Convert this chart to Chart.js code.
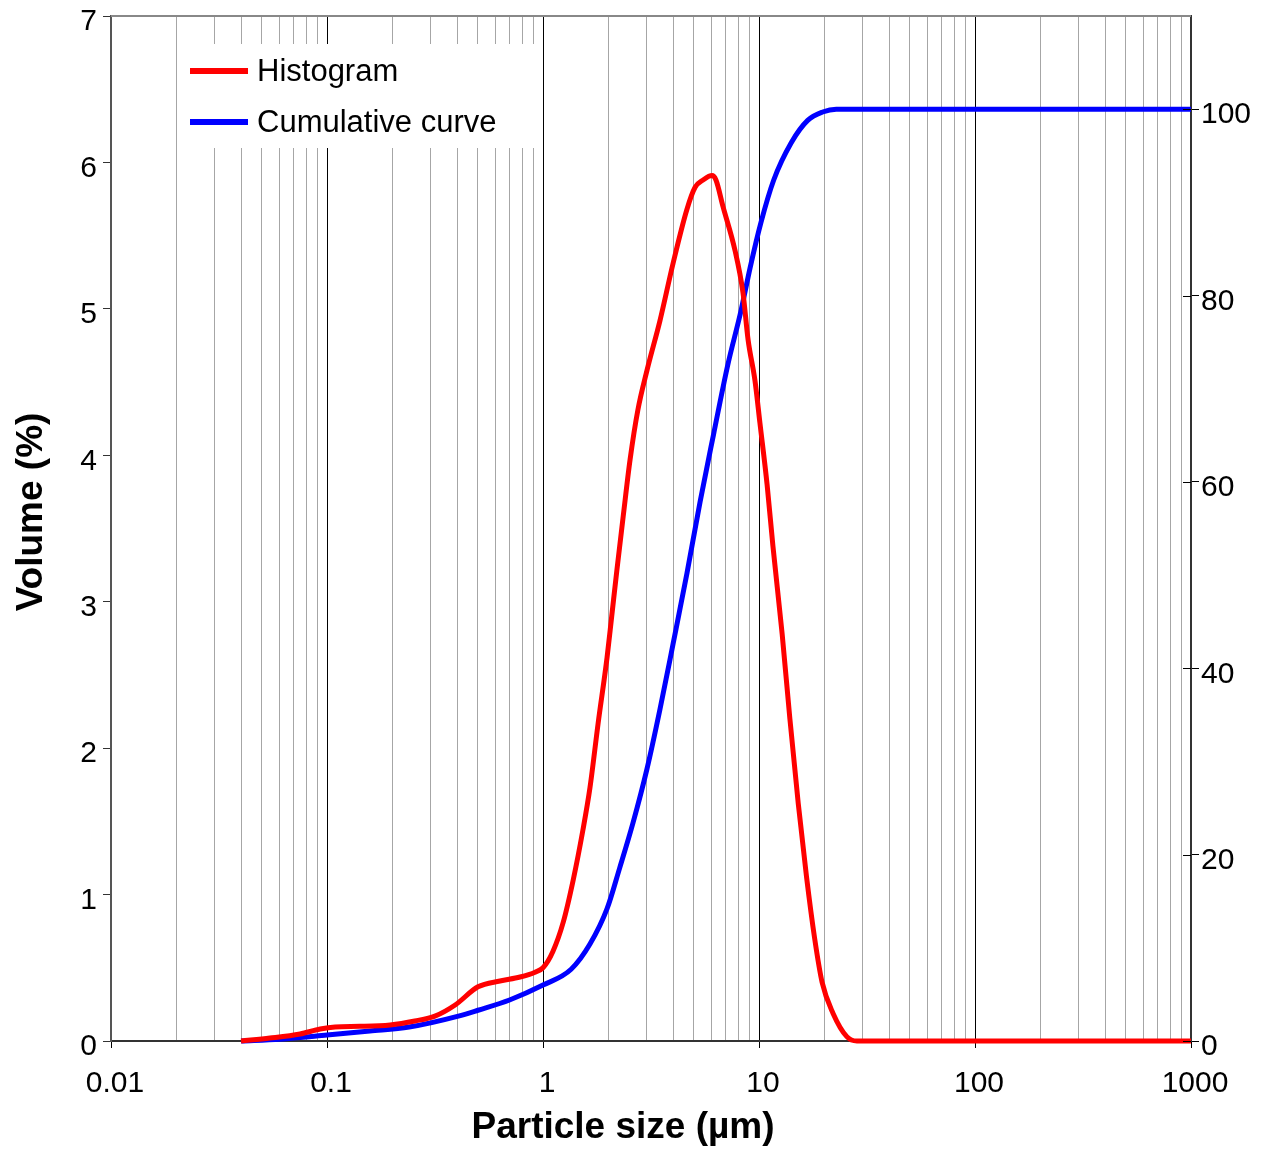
<!DOCTYPE html>
<html>
<head>
<meta charset="utf-8">
<script src="https://cdn.jsdelivr.net/npm/chart.js@4.4.0/dist/chart.umd.min.js"></script>
<style>
  html, body { margin: 0; padding: 0; background: #fff; }
  #wrap { width: 1263px; height: 1150px; }
</style>
</head>
<body>
<div id="wrap"><canvas id="c" width="1263" height="1150"></canvas></div>
<script>
// ---- data ----
const xTickLabels = ['0.01', '0.1', '1', '10', '100', '1000'];
const yLeftTicks = [0, 1, 2, 3, 4, 5, 6, 7];
const yRightTicks = [0, 20, 40, 60, 80, 100];

const histSizes = [0.04,0.0544,0.075,0.093,0.109,0.142,0.196,0.255,0.316,0.392,0.5,0.632,0.783,0.919,1,1.11,1.24,1.38,1.53,1.65,1.80,1.98,2.08,2.20,2.35,2.53,2.75,3.03,3.48,4.0,4.64,5.06,5.51,6.06,6.32,6.81,7.74,8.43,8.90,9.58,10.1,10.9,11.6,12.8,13.9,15.2,16.6,18.1,19.6,22.0,25.5,28.4,35,50,100,200,500,1000,1080];
const histVolume = [0,0.02,0.048,0.082,0.096,0.10,0.11,0.137,0.17,0.246,0.37,0.41,0.437,0.47,0.50,0.61,0.81,1.10,1.44,1.73,2.17,2.62,2.90,3.22,3.58,3.97,4.31,4.58,4.92,5.31,5.68,5.83,5.88,5.91,5.88,5.70,5.40,5.11,4.79,4.51,4.22,3.80,3.38,2.78,2.20,1.62,1.12,0.70,0.40,0.19,0.03,0,0,0,0,0,0,0,0];

const cumSizes = [0.04,0.0605,0.1,0.158,0.24,0.41,0.5,0.70,1,1.35,1.65,1.98,2.26,2.61,3.03,3.48,4.0,4.64,5.34,6.16,7.16,8.26,9.1,10.2,11.7,14.1,16.8,19.7,22.8,50,100,1000,1080];
const cumValues = [0,0.2,0.64,1.07,1.5,2.7,3.3,4.4,6.0,7.7,10.4,14.2,18.5,23.4,29.2,35.6,42.6,50.2,57.9,65.1,72.5,78.4,83.0,87.8,92.4,96.4,98.8,99.7,100,100,100,100,100];

const seriesNames = ['Histogram', 'Cumulative curve'];
const xTitle = 'Particle size (µm)';
const yTitle = 'Volume (%)';

// ---- helpers ----
const FONT = '"Liberation Sans", Arial, Helvetica, sans-serif';
function isMajor(v) {
  const l = Math.log10(v);
  return Math.abs(l - Math.round(l)) < 1e-6;
}
function buildLogTicks() {
  const out = [];
  for (let e = -2; e <= 3; e++) {
    for (let m = 1; m <= 9; m++) {
      const v = m * Math.pow(10, e);
      if (v > 1000 * 1.0001) break;
      out.push({ value: v, major: m === 1 });
    }
  }
  return out;
}
function labelFor(v) {
  for (const s of xTickLabels) {
    if (Math.abs(Number(s) - v) / Number(s) < 1e-6) return s;
  }
  return '';
}

const bgPlugin = {
  id: 'bg',
  beforeDraw(chart) {
    const ctx = chart.ctx;
    ctx.save();
    ctx.fillStyle = '#fff';
    ctx.fillRect(0, 0, chart.width, chart.height);
    ctx.restore();
  }
};

const legendPlugin = {
  id: 'boxLegend',
  beforeDatasetsDraw(chart) {
    const ctx = chart.ctx;
    ctx.save();
    ctx.fillStyle = '#fff';
    ctx.fillRect(179, 44, 362, 104);
    const rows = [71, 122];
    chart.data.datasets.forEach((ds, i) => {
      ctx.strokeStyle = ds.borderColor;
      ctx.lineWidth = 6;
      ctx.beginPath();
      ctx.moveTo(190, rows[i]);
      ctx.lineTo(248, rows[i]);
      ctx.stroke();
      ctx.fillStyle = '#000';
      ctx.font = '31px ' + FONT;
      ctx.textBaseline = 'middle';
      ctx.textAlign = 'left';
      ctx.fillText(ds.label, 257, rows[i] + 1);
    });
    ctx.restore();
  }
};

const framePlugin = {
  id: 'frame',
  afterDraw(chart) {
    const ctx = chart.ctx;
    const a = chart.chartArea;
    ctx.save();
    ctx.strokeStyle = '#888';
    ctx.lineWidth = 2;
    ctx.beginPath();
    ctx.moveTo(a.left, a.top);
    ctx.lineTo(a.right, a.top);
    ctx.stroke();
    const y2 = chart.scales.y2;
    ctx.strokeStyle = '#000';
    ctx.lineWidth = 1;
    y2.ticks.forEach(t => {
      const p = Math.round(y2.getPixelForValue(t.value)) + 0.5;
      ctx.beginPath();
      ctx.moveTo(a.right - 8, p);
      ctx.lineTo(a.right, p);
      ctx.stroke();
    });
    ctx.fillStyle = '#000';
    ctx.font = 'bold 37px ' + FONT;
    ctx.textAlign = 'center';
    ctx.textBaseline = 'alphabetic';
    ctx.fillText(xTitle, 623, 1138);
    ctx.translate(42, 512);
    ctx.rotate(-Math.PI / 2);
    ctx.fillText(yTitle, 0, 0);
    ctx.restore();
  }
};

new Chart(document.getElementById('c'), {
  type: 'line',
  data: {
    datasets: [
      {
        label: seriesNames[0],
        data: histSizes.map((x, i) => ({ x: x, y: histVolume[i] })),
        yAxisID: 'y',
        borderColor: '#ff0000',
        borderWidth: 5,
        pointRadius: 0,
        fill: false,
        cubicInterpolationMode: 'monotone',
        clip: { left: 5, top: 5, right: 8, bottom: 5 }
      },
      {
        label: seriesNames[1],
        data: cumSizes.map((x, i) => ({ x: x, y: cumValues[i] })),
        yAxisID: 'y2',
        borderColor: '#0000ff',
        borderWidth: 5,
        pointRadius: 0,
        fill: false,
        cubicInterpolationMode: 'monotone',
        clip: { left: 5, top: 5, right: 8, bottom: 5 }
      }
    ]
  },
  options: {
    responsive: false,
    animation: false,
    events: [],
    layout: { padding: { top: 16, left: 0, right: 0, bottom: 0 } },
    plugins: { legend: { display: false }, tooltip: { enabled: false }, title: { display: false } },
    scales: {
      x: {
        type: 'logarithmic',
        position: 'bottom',
        min: 0.01,
        max: 1000,
        afterBuildTicks(s) { s.ticks = buildLogTicks(); },
        afterFit(s) { s.height = 109; s.paddingLeft = 0; s.paddingRight = 0; },
        grid: {
          drawOnChartArea: true,
          lineWidth: 1,
          color: ctx => (ctx.tick && isMajor(ctx.tick.value)) ? '#000' : '#a6a6a6',
          tickColor: ctx => (ctx.tick && isMajor(ctx.tick.value)) ? '#000' : 'rgba(0,0,0,0)',
          tickLength: 7
        },
        border: { display: true, color: '#333', width: 2 },
        ticks: {
          autoSkip: false,
          maxRotation: 0,
          minRotation: 0,
          color: '#000',
          font: { family: FONT, size: 30 },
          padding: 18,
          labelOffset: 4,
          callback: (v) => labelFor(v)
        }
      },
      y: {
        position: 'left',
        min: 0,
        max: 7,
        afterBuildTicks(s) { s.ticks = yLeftTicks.map(v => ({ value: v })); },
        afterFit(s) { s.width = 111; s.paddingTop = 0; s.paddingBottom = 0; },
        grid: { drawOnChartArea: false, tickLength: 8, color: '#333', lineWidth: 1 },
        border: { display: true, color: '#555', width: 2 },
        ticks: {
          color: '#000',
          font: { family: FONT, size: 30 },
          padding: 6,
          labelOffset: 6,
          callback: v => String(v)
        }
      },
      y2: {
        position: 'right',
        min: 0,
        max: 110,
        afterBuildTicks(s) { s.ticks = yRightTicks.map(v => ({ value: v })); },
        afterFit(s) { s.width = 72; s.paddingTop = 0; s.paddingBottom = 0; },
        grid: { drawOnChartArea: false, tickLength: 8, color: '#000', lineWidth: 1 },
        border: { display: true, color: '#333', width: 2 },
        ticks: {
          color: '#000',
          font: { family: FONT, size: 30 },
          padding: 2,
          labelOffset: 6,
          callback: v => String(v)
        }
      }
    }
  },
  plugins: [bgPlugin, legendPlugin, framePlugin]
});
</script>
</body>
</html>
